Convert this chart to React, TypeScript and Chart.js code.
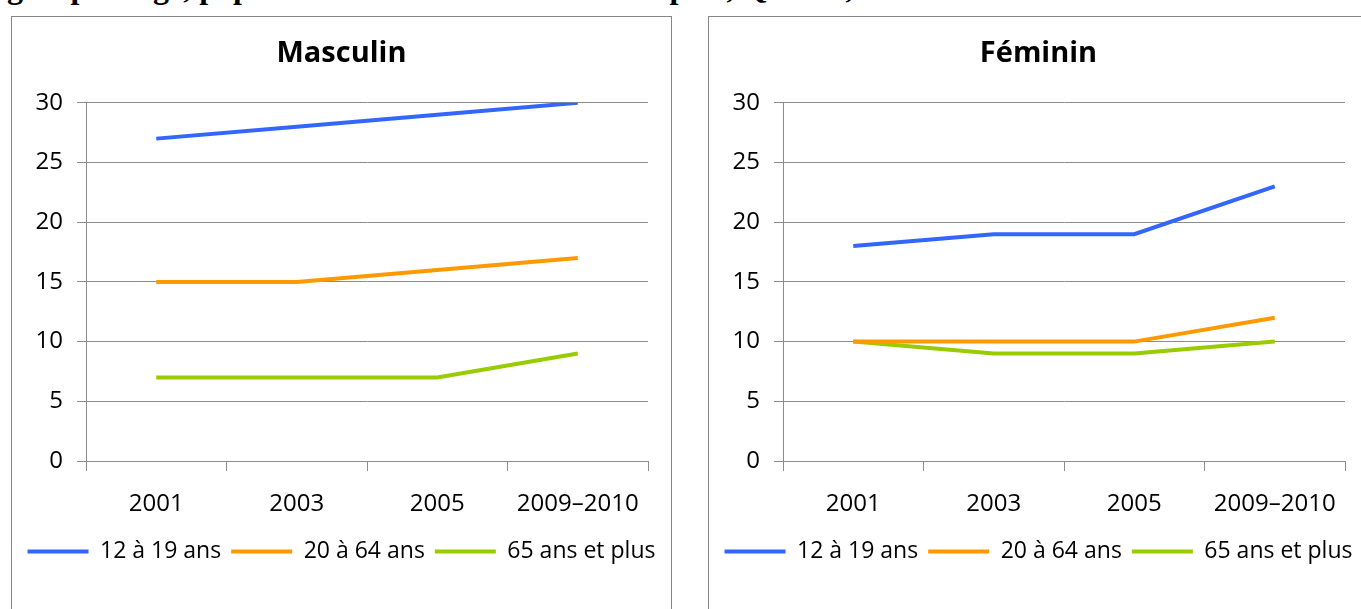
import React, { useEffect, useRef } from "react";
import { Chart, registerables } from "chart.js";

Chart.register(...registerables);

const CATEGORIES = ["2001", "2003", "2005", "2009–2010"];
const SERIES_LABELS = ["12 à 19 ans", "20 à 64 ans", "65 ans et plus"];
const SERIES_COLORS = ["#3366FF", "#FF9900", "#99CC00"];

const MASC_12_19 = [27, 28, 29, 30];
const MASC_20_64 = [15, 15, 16, 17];
const MASC_65_PLUS = [7, 7, 7, 9];

const FEM_12_19 = [18, 19, 19, 23];
const FEM_20_64 = [10, 10, 10, 12];
const FEM_65_PLUS = [10, 9, 9, 10];

const Y_MIN = 0;
const Y_MAX = 30;
const Y_STEP = 5;

const PAGE_TITLE =
  "groupe d'âge, population à domicile de 12 ans et plus, Québec, 2001 à 2009–2010";

const FONT = "'Open Sans', 'Noto Sans', sans-serif";
const GRID = "#8c8c8c";

function LineChart({ title, series }: { title: string; series: number[][] }) {
  const ref = useRef<HTMLCanvasElement | null>(null);
  useEffect(() => {
    if (!ref.current) return;
    const chart = new Chart(ref.current, {
      type: "line",
      data: {
        labels: CATEGORIES,
        datasets: series.map((values, i) => ({
          label: SERIES_LABELS[i],
          data: values,
          borderColor: SERIES_COLORS[i],
          backgroundColor: SERIES_COLORS[i],
          borderWidth: 4,
          pointRadius: 0,
          pointStyle: "line",
          tension: 0,
          fill: false,
          yAxisID: "y",
        })),
      },
      options: {
        responsive: false,
        animation: false,
        events: [],
        layout: { padding: { left: 0, right: 0, top: 0, bottom: 37 } },
        scales: {
          x: {
            offset: true,
            grid: {
              offset: true,
              drawOnChartArea: false,
              drawTicks: true,
              tickLength: 10,
              color: GRID,
            },
            border: { display: true, color: GRID },
            ticks: {
              color: "#000",
              font: { family: FONT, size: 24 },
              padding: 19,
              maxRotation: 0,
            },
            afterFit: (scale: any) => {
              scale.height = 69;
            },
          },
          y: {
            min: Y_MIN,
            max: Y_MAX,
            ticks: {
              stepSize: Y_STEP,
              color: "#000",
              font: { family: FONT, size: 24 },
              padding: 14,
            },
            grid: {
              color: GRID,
              drawTicks: true,
              tickLength: 9,
            },
            border: { display: true, color: GRID },
            afterFit: (scale: any) => {
              scale.width = 74;
            },
          },
          yRight: {
            position: "right",
            display: true,
            min: Y_MIN,
            max: Y_MAX,
            grid: { display: false, drawOnChartArea: false, drawTicks: false },
            border: { display: false },
            ticks: { display: false },
            afterFit: (scale: any) => {
              scale.width = 23;
            },
          },
        },
        plugins: {
          title: {
            display: true,
            text: title,
            color: "#000",
            font: { family: FONT, size: 29, weight: "bold" },
            padding: { top: 19, bottom: 32 },
          },
          legend: {
            display: true,
            position: "bottom",
            labels: {
              usePointStyle: true,
              pointStyle: "line",
              pointStyleWidth: 61,
              color: "#000",
              font: { family: FONT, size: 23 },
              padding: 10,
            },
          },
          tooltip: { enabled: false },
        },
      } as any,
    });
    return () => chart.destroy();
  }, [title, series]);
  return <canvas ref={ref} width={659} height={593} style={{ display: "block", width: 659, height: 593 }} />;
}

export default function App() {
  return (
    <div
      style={{
        position: "fixed",
        left: 0,
        top: 0,
        width: 1361,
        height: 609,
        overflow: "hidden",
        background: "#fff",
      }}
    >
      <div
        style={{
          position: "absolute",
          left: 7,
          top: -29,
          whiteSpace: "nowrap",
          fontFamily: "'Liberation Serif', 'Times New Roman', serif",
          fontWeight: "bold",
          fontSize: 32,
          lineHeight: "32px",
          color: "#000",
        }}
      >
        {PAGE_TITLE}
      </div>
      <div
        style={{
          position: "absolute",
          left: 11,
          top: 16,
          width: 661,
          height: 640,
          border: "1px solid #868686",
          boxSizing: "border-box",
          overflow: "hidden",
        }}
      >
        <LineChart title="Masculin" series={[MASC_12_19, MASC_20_64, MASC_65_PLUS]} />
      </div>
      <div
        style={{
          position: "absolute",
          left: 708,
          top: 16,
          width: 661,
          height: 640,
          border: "1px solid #868686",
          boxSizing: "border-box",
          overflow: "hidden",
        }}
      >
        <LineChart title="Féminin" series={[FEM_12_19, FEM_20_64, FEM_65_PLUS]} />
      </div>
    </div>
  );
}
